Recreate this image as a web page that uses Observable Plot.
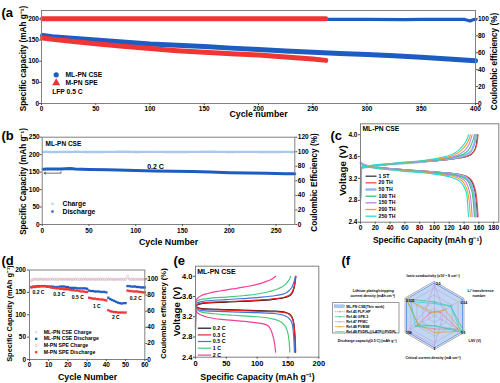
<!DOCTYPE html>
<html><head><meta charset="utf-8">
<script src="https://cdn.jsdelivr.net/npm/d3@7"></script>
<script src="https://cdn.jsdelivr.net/npm/@observablehq/plot@0.6"></script>
<style>
body{margin:0;background:#fff;}
#root{position:relative;width:500px;height:383px;overflow:hidden;}
</style></head><body><div id="root"></div><script>
// ================= DATA =================
// (a) long cycling, LFP 0.5 C
const aBlueCapCycle=[1,10,25,50,75,100,125,150,175,200,225,250,275,300,325,350,375,400];
const aBlueCap=[161,158,155,150,145.5,141,138,135,131,127.5,124,121,118.5,116,113,109.5,105,101];
const aRedCapCycle=[1,10,25,50,75,100,125,150,175,200,225,250,262];
const aRedCap=[155,152,148,141.5,135.5,130,125,121,117.5,114.5,110,105.5,102];
const aBlueCECycle=[1,50,100,150,200,250,300,335,350,390,395,398,400];
const aBlueCE=[99.5,99.6,99.5,99.6,99.5,99.4,99.5,99.2,99.5,99.4,97.5,99.2,99.4];
const aRedCECycle=[1,100,200,262];
const aRedCE=[100.2,100.3,100.2,100.3];
const aXTicks=[0,50,100,150,200,250,300,350,400];
const aYTicks=[0,50,100,150,200];
const aY2Ticks=[0,20,40,60,80,100];

// (b) 0.2 C cycling
const bCycle=[1,5,10,20,30,35,50,70,90,100,120,140,160,180,200,220,240,260,270];
const bDischarge=[158.5,159,159,159,160.5,159,157.5,156.5,155.5,154.5,153.5,152.5,151.5,150,148.5,147.5,146.5,145.5,145];
const bCE=[99.6,100,99.5,99.9,99.7,100,99.6,99.8,100,99.7,99.9,99.6,99.8,100,99.7,99.9,99.6,99.8,99.7];
const bXTicks=[0,50,100,150,200,250];
const bYTicks=[0,50,100,150,200,250];
const bY2Ticks=[0,20,40,60,80,100,120];
const bArrow={from:20,to:2,at:147,tick:152};

// (c) voltage profiles by cycle
const cCycles=["1 ST","20 TH","50 TH","100 TH","150 TH","200 TH","250 TH"];
const cColors=["#3a3a3a","#f24a4a","#8fb6ef","#34c27a","#c47ee6","#e8a51a","#22dcdc"];
const cCharge=[
 [[0,2.75],[1,3.38],[10,3.41],[20,3.43],[40,3.46],[60,3.48],[80,3.5],[100,3.52],[120,3.55],[135,3.58],[145,3.61],[151,3.66],[155,3.74],[157,3.85],[158,4.0]],
 [[0,2.8],[1,3.39],[10,3.41],[20,3.43],[40,3.46],[60,3.48],[80,3.5],[100,3.52],[120,3.55],[135,3.58],[146,3.61],[152,3.67],[156,3.76],[158,3.88],[159,4.0]],
 [[0,2.85],[1,3.39],[10,3.41],[20,3.43],[40,3.46],[60,3.48],[80,3.5],[100,3.53],[120,3.56],[135,3.6],[144,3.64],[150,3.71],[153,3.8],[155,3.9],[156,4.0]],
 [[0,2.9],[1,3.4],[10,3.42],[20,3.44],[40,3.46],[60,3.49],[80,3.51],[100,3.53],[120,3.57],[132,3.61],[142,3.67],[148,3.76],[151,3.86],[153,3.94],[154,4.0]],
 [[0,2.9],[1,3.4],[10,3.42],[20,3.44],[40,3.47],[60,3.49],[80,3.51],[100,3.54],[120,3.58],[130,3.62],[139,3.69],[145,3.78],[148,3.87],[150,3.95],[151,4.0]],
 [[0,2.95],[1,3.41],[10,3.42],[20,3.44],[40,3.47],[60,3.49],[80,3.52],[100,3.55],[118,3.59],[128,3.64],[136,3.71],[142,3.8],[145.5,3.88],[147.5,3.95],[148.5,4.0]],
 [[0,3.0],[1,3.41],[10,3.43],[20,3.45],[40,3.47],[60,3.5],[80,3.52],[100,3.56],[115,3.6],[125,3.65],[133,3.72],[139,3.81],[143,3.89],[145,3.95],[146,4.0]]
];
const cDischarge=[
 [[0,3.5],[3,3.46],[10,3.43],[20,3.41],[40,3.38],[60,3.36],[80,3.34],[100,3.32],[120,3.3],[135,3.27],[145,3.22],[150,3.15],[153,3.05],[155.5,2.9],[157,2.7],[158,2.5]],
 [[0,3.49],[3,3.46],[10,3.43],[20,3.41],[40,3.38],[60,3.36],[80,3.34],[100,3.32],[120,3.3],[135,3.27],[146,3.22],[151,3.15],[154,3.05],[156.5,2.9],[158,2.7],[159,2.5]],
 [[0,3.49],[3,3.46],[10,3.43],[20,3.4],[40,3.37],[60,3.35],[80,3.33],[100,3.31],[120,3.29],[134,3.26],[143,3.21],[148,3.14],[151,3.04],[153.5,2.9],[155,2.7],[156,2.5]],
 [[0,3.48],[3,3.45],[10,3.42],[20,3.4],[40,3.37],[60,3.35],[80,3.33],[100,3.31],[120,3.28],[132,3.25],[141,3.2],[146,3.13],[149,3.03],[151.5,2.9],[153,2.7],[154,2.5]],
 [[0,3.48],[3,3.45],[10,3.42],[20,3.4],[40,3.37],[60,3.34],[80,3.32],[100,3.3],[118,3.27],[130,3.24],[138,3.19],[143,3.12],[146,3.02],[148.5,2.88],[150,2.7],[151,2.5]],
 [[0,3.47],[3,3.44],[10,3.41],[20,3.39],[40,3.36],[60,3.34],[80,3.32],[100,3.29],[116,3.26],[127,3.23],[135,3.18],[140,3.11],[143.5,3.01],[146,2.88],[147.5,2.7],[148.5,2.5]],
 [[0,3.47],[3,3.44],[10,3.41],[20,3.39],[40,3.36],[60,3.33],[80,3.31],[100,3.28],[114,3.25],[125,3.21],[133,3.16],[138,3.09],[141.5,3.0],[144,2.87],[145,2.7],[146,2.5]]
];
const cXTicks=[0,20,40,60,80,100,120,140,160,180];
const vTicks=[2.4,2.8,3.2,3.6,4.0];

// (d) rate performance
const dCycle=[1,2,3,4,5,6,7,8,9,10,11,12,13,14,15,16,17,18,19,20,21,22,23,24,25,26,27,28,29,30,31,32,33,34,35,36,37,38,39,40,41,42,43,44,45,46,47,48,49,50,51,52,53,54,55,56,57,58,59,60];
const dBlueDis=[162,163,163,164,164,164,164,164,163,163, 163,163,162,162,162,163,163,163,162,162, 160,160,160,160,159,159,159,159,159,158, 154,153,153,152,152,152,151,151,151,150, 138,135,133,131,129,127,126,125,126,126, 164,164,163,163,163,162,162,161,161,161];
const dRedDis=[161,162,162,163,163,164,164,164,163,163, 161,160,160,159,159,158,158,157,157,157, 156,155,155,154,154,153,152,152,151,151, 138,137,136,136,135,135,134,134,133,132, 110,108,107,106,106,105,105,105,105,105, 154,153,153,152,152,152,151,151,150,150];
const dBlueCE=[97.5,99.2,99.6,99.1,99.4,99.7,99.2,99.5,99.1,99.6, 99.3,99.7,99.1,99.5,99.2,99.6,99.3,99,99.5,99.2, 99.6,99.1,99.4,99.7,99.2,99.5,99,99.4,99.6,99.1, 99.5,99.2,99.6,99.1,99.4,99.7,99.2,99.5,99.1,99.3, 99.6,99.2,99.5,99.1,99.4,99.7,99.2,99.5,99.1,99.4, 101.5,99.6,99.2,99.5,99.1,99.4,99.6,99.2,99.5,99.3];
const dRedCE=[98.5,99.6,99.9,99.4,99.8,100,99.5,99.9,99.6,99.8, 99.5,99.9,99.6,99.8,99.4,99.9,99.6,99.8,99.5,99.9, 99.7,99.4,99.9,99.6,99.8,99.5,99.9,99.6,99.8,99.5, 99.8,99.6,99.9,99.5,99.8,99.6,100,99.7,99.5,99.8, 99.6,99.9,99.7,99.5,99.8,99.6,99.9,99.7,99.5,99.8, 104,99.8,99.5,99.9,99.6,99.8,99.5,99.9,99.6,99.8];
const dXTicks=[0,10,20,30,40,50,60];
const dYTicks=[0,50,100,150,200];
const dY2Ticks=[0,20,40,60,80,100];
const dRateLabels=["0.2 C","0.3 C","0.5 C","1 C","2 C","0.2 C"];

// (e) voltage profiles by rate
const eRates=["0.2 C","0.3 C","0.5 C","1 C","2 C"];
const eColors=["#111111","#ee2222","#3a78d8","#46c878","#f0409a"];
const eCharge=[
 [[0,2.95],[0.5,3.42],[10,3.46],[50,3.49],[100,3.52],[130,3.55],[145,3.58],[153,3.62],[158,3.7],[161,3.84],[162.5,4.0]],
 [[0,3.0],[0.5,3.43],[10,3.47],[50,3.5],[100,3.53],[130,3.56],[145,3.59],[153,3.63],[158,3.72],[161,3.85],[163,4.0]],
 [[0,3.1],[0.5,3.46],[10,3.5],[50,3.54],[100,3.58],[130,3.62],[145,3.66],[152,3.72],[157,3.8],[160,3.9],[162,4.0]],
 [[0,3.2],[0.5,3.49],[5,3.53],[20,3.56],[50,3.59],[80,3.62],[100,3.65],[120,3.7],[135,3.76],[145,3.83],[150,3.9],[153,3.96],[154,4.0]],
 [[0,3.3],[0.5,3.5],[3,3.56],[10,3.62],[20,3.66],[40,3.71],[60,3.75],[80,3.79],[100,3.84],[115,3.9],[125,3.95],[130,4.0]]
];
const eDischarge=[
 [[0,3.4],[10,3.36],[50,3.34],[100,3.32],[130,3.31],[145,3.29],[153,3.25],[158,3.15],[160.5,2.95],[161.5,2.7],[162,2.5]],
 [[0,3.39],[10,3.35],[50,3.33],[100,3.31],[130,3.3],[145,3.28],[153,3.24],[158,3.14],[160.5,2.93],[162,2.7],[162.5,2.5]],
 [[0,3.37],[10,3.32],[50,3.3],[100,3.28],[130,3.26],[145,3.22],[153,3.15],[157,3.05],[159,2.85],[160,2.65],[160.5,2.5]],
 [[0,3.36],[10,3.29],[30,3.26],[60,3.23],[100,3.2],[120,3.17],[135,3.12],[143,3.05],[148,2.95],[151,2.8],[152.5,2.62],[153,2.5]],
 [[0,3.35],[3,3.28],[10,3.23],[20,3.19],[50,3.14],[80,3.11],[100,3.08],[115,3.04],[122,2.95],[126,2.8],[128.5,2.65],[130,2.5]]
];
const eXTicks=[0,50,100,150,200];

// (f) radar comparison (normalised to this work's maxima)
const fAxisMax=["2.5","0.54","5.1","1","158","0.035"];
const fSeries=["ML-PN CSE(This work)","Ref.45 PLP-HP","Ref.46 GPE-3","Ref.47 PFMC","Ref.48 PVBSE","Ref.49 PVDFL@LATP@PVDFL"];
const fColors=["#5b8fdc","#f07080","#3fbf7f","#c898e8","#e0a020","#2fd0d8"];
const fValues=[
 [0.95,0.95,0.95,0.95,0.95,0.95],
 [0.12,0.2,0.8,0.4,0.62,0.15],
 [0.4,0.55,1.02,0.3,0.55,0.95],
 [0.92,0.3,0.25,0.88,0.9,0.3],
 [0.08,0.35,0.93,0.5,0.55,0.95],
 [0.35,0.55,0.88,0.3,0.65,0.8]
];
const fLevels=[0.2,0.4,0.6,0.8,1.0];

// ================= RENDER =================
const FONT='"Liberation Sans", Arial, Helvetica, sans-serif';
const root=document.getElementById("root");
function mount(svg,left,top,z){svg.style.position="absolute";svg.style.left=left+"px";svg.style.top=top+"px";if(z)svg.style.zIndex=z;root.appendChild(svg);}
function S(size){return {fontFamily:FONT,fontWeight:"bold",fontSize:size+"px",background:"transparent",overflow:"visible",color:"#000",maxWidth:"none"};}
function rows(xs,ys){return xs.map((x,i)=>({x,y:ys[i]}));}
function pairs(a){return a.map(([x,y])=>({x,y}));}
const BLUE="#1d5cc0", RED="#f03535", AX="#555", FR="#808080";

// ---- (a)
const k2=2;
mount(Plot.plot({
  width:500,height:125,marginLeft:41,marginRight:25,marginTop:10,marginBottom:22,style:S(6.5),
  x:{domain:[0,400]},y:{domain:[0,220]},
  marks:[
    Plot.line(rows(aBlueCECycle,aBlueCE.map(v=>v*k2)),{x:"x",y:"y",stroke:BLUE,strokeWidth:3.2}),
    Plot.line(rows(aBlueCapCycle,aBlueCap),{x:"x",y:"y",stroke:BLUE,strokeWidth:5}),
    Plot.line(rows(aRedCapCycle,aRedCap),{x:"x",y:"y",stroke:RED,strokeWidth:5}),
    Plot.line(rows(aRedCECycle,aRedCE.map(v=>v*k2)),{x:"x",y:"y",stroke:RED,strokeWidth:5}),
    Plot.frame({stroke:FR}),
    Plot.axisX({ticks:aXTicks,tickSize:2,tickPadding:0.5,label:null,stroke:AX}),
    Plot.axisY({ticks:aYTicks,tickSize:2,tickPadding:0.5,label:null,stroke:AX}),
    Plot.axisY({anchor:"right",ticks:aY2Ticks.map(v=>v*k2),tickFormat:v=>v/k2,tickSize:2,tickPadding:0.5,label:null,stroke:AX})
  ]}),0,0);

// ---- (b)
const kb=250/120;
mount(Plot.plot({
  width:335,height:130,marginLeft:41.7,marginRight:40.7,marginTop:11.7,marginBottom:31,style:S(6.5),
  x:{domain:[0,270]},y:{domain:[0,250]},
  marks:[
    Plot.line(rows(bCycle,bCE.map(v=>v*kb)),{x:"x",y:"y",stroke:"#a9c8ef",strokeWidth:2.4,strokeDasharray:"1.3,1.1"}),
    Plot.line(rows(bCycle,bDischarge),{x:"x",y:"y",stroke:BLUE,strokeWidth:3}),
    Plot.arrow([bArrow],{x1:"from",x2:"to",y1:"at",y2:"at",stroke:"#333",strokeWidth:0.7,headLength:4}),
    Plot.link([bArrow],{x1:"from",x2:"from",y1:"at",y2:"tick",stroke:"#333",strokeWidth:0.7}),
    Plot.frame({stroke:FR}),
    Plot.axisX({ticks:bXTicks,tickSize:2,tickPadding:1.5,label:null,stroke:AX}),
    Plot.axisY({ticks:bYTicks,tickSize:2,tickPadding:0.5,label:null,stroke:AX}),
    Plot.axisY({anchor:"right",ticks:bY2Ticks.map(v=>v*kb),tickFormat:v=>Math.round(v/kb),tickSize:2,tickPadding:1,label:null,stroke:AX})
  ]}),0,125);

// ---- (c)
const cMarks=[];
cCycles.forEach((c,i)=>{
  const w=i===2?2.2:1.1;
  cMarks.push(Plot.line(pairs(cCharge[i]),{x:"x",y:"y",stroke:cColors[i],strokeWidth:w,curve:"monotone-x"}));
  cMarks.push(Plot.line(pairs(cDischarge[i]),{x:"x",y:"y",stroke:cColors[i],strokeWidth:w,curve:"monotone-x"}));
});
mount(Plot.plot({
  width:170,height:137,marginLeft:30,marginRight:1.7,marginTop:5.3,marginBottom:33.3,style:S(6.5),
  x:{domain:[0,187]},y:{domain:[2.4,4.2]},
  marks:[...cMarks,
    Plot.frame({stroke:FR}),
    Plot.axisX({ticks:cXTicks,tickSize:2,tickPadding:1,label:null,stroke:AX}),
    Plot.axisY({ticks:vTicks,tickFormat:d3.format(".1f"),tickSize:2,tickPadding:1,label:null,stroke:AX})
  ]}),330,118);

// ---- (d)
const kd=1.8;
mount(Plot.plot({
  width:175,height:128,marginLeft:29,marginRight:30.7,marginTop:14.5,marginBottom:24,style:S(6.5),
  x:{domain:[0,60]},y:{domain:[0,200]},
  marks:[
    Plot.dot(rows(dCycle,dBlueCE.map(v=>v*kd)),{x:"x",y:"y",r:1,stroke:"#b4cdf0",strokeWidth:0.6}),
    Plot.dot(rows(dCycle,dRedCE.map(v=>v*kd)),{x:"x",y:"y",r:1,stroke:"#f5b0b0",strokeWidth:0.6}),
    Plot.dot(rows(dCycle,dBlueDis),{x:"x",y:"y",r:1.3,fill:BLUE,symbol:"square"}),
    Plot.dot(rows(dCycle,dRedDis),{x:"x",y:"y",r:1.3,fill:RED,symbol:"square"}),
    Plot.frame({stroke:FR}),
    Plot.axisX({ticks:dXTicks,tickSize:2,tickPadding:1,label:null,stroke:AX}),
    Plot.axisY({ticks:dYTicks,tickSize:2,tickPadding:1.5,label:null,stroke:AX}),
    Plot.axisY({anchor:"right",ticks:dY2Ticks.map(v=>v*kd),tickFormat:v=>Math.round(v/kd),tickSize:2,tickPadding:0.5,label:null,stroke:AX})
  ]}),0,255);

// ---- (e)
const eMarks=[];
eRates.forEach((r,i)=>{
  eMarks.push(Plot.line(pairs(eCharge[i]),{x:"x",y:"y",stroke:eColors[i],strokeWidth:1.2,curve:"monotone-x"}));
  eMarks.push(Plot.line(pairs(eDischarge[i]),{x:"x",y:"y",stroke:eColors[i],strokeWidth:1.2,curve:"monotone-x"}));
});
mount(Plot.plot({
  width:170,height:128,marginLeft:30,marginRight:16.7,marginTop:10.7,marginBottom:26.3,style:S(7.5),
  x:{domain:[0,200]},y:{domain:[2.4,4.2]},
  marks:[...eMarks,
    Plot.frame({stroke:FR}),
    Plot.axisX({ticks:eXTicks,tickSize:2,tickPadding:1,label:null,stroke:AX}),
    Plot.axisY({ticks:vTicks,tickFormat:d3.format(".1f"),tickSize:2,tickPadding:1,label:null,stroke:AX})
  ]}),165,255);

// ---- (f) radar
const fAng=fAxisMax.map((_,i)=>(90-60*i)*Math.PI/180);
const polar=(v,i)=>({x:v*Math.cos(fAng[i]),y:v*Math.sin(fAng[i])});
const gridRows=fLevels.flatMap(l=>fAng.map((_,i)=>({...polar(l,i),l})));
const spokes=fAng.map((_,i)=>({x1:0,y1:0,...polar(1,i)}));
const fMarks=[
  Plot.line(fValues[0].map(polar),{x:"x",y:"y",curve:"linear-closed",fill:"#a9c3ef",fillOpacity:0.7,stroke:"none"}),
  Plot.line(gridRows.filter(d=>d.l<1),{x:"x",y:"y",z:"l",curve:"linear-closed",stroke:"#9aa3b5",strokeWidth:0.4}),
  Plot.line(gridRows.filter(d=>d.l===1),{x:"x",y:"y",curve:"linear-closed",stroke:"#a8a8a8",strokeWidth:1}),
  Plot.link(spokes,{x1:"x1",y1:"y1",x2:"x",y2:"y",stroke:"#9aa3b5",strokeWidth:0.4}),
  Plot.line(fValues[0].map(polar),{x:"x",y:"y",curve:"linear-closed",stroke:fColors[0],strokeWidth:0.9})
];
for(let s=1;s<fSeries.length;s++){
  fMarks.push(Plot.line(fValues[s].map(polar),{x:"x",y:"y",curve:"linear-closed",stroke:fColors[s],strokeWidth:0.7,strokeDasharray:s===1?"1.5,0.8":null}));
  fMarks.push(Plot.dot(fValues[s].map(polar),{x:"x",y:"y",r:0.7,fill:fColors[s]}));
}
fMarks.push(Plot.dot(fValues[0].map(polar),{x:"x",y:"y",r:0.7,fill:fColors[0]}));
mount(Plot.plot({
  width:170,height:128,margin:0,style:S(4),
  x:{domain:[-104/34,66/34],axis:null},y:{domain:[-68/34,60/34],axis:null},
  marks:fMarks}),330,255);

// ---- overlay: titles, panel letters, legends (page pixel coordinates)
const T=[]; // [text,x,y,size,anchor,rotate]
function t(s,x,y,sz,a="start",r=0){T.push({s,x,y,sz,a,r});}
t("(a",1,12,13); t("(b",1,135,13); t("(c",330,135,13); t("(d",1,260,13); t("(e",173,260,13); t("(f",341,260,13);
// axis titles
t("Cycle number",258,114,8.8,"middle");
t("Specific capacity (mAh g\u207B\u00B9)",23,58,8.2,"middle",-90);
t("Coulombic efficiency (%)",494,61,8.2,"middle",-90);
t("Cycle Number",168,242,8.8,"middle");
t("Specific Capacity (mAh g\u207B\u00B9)",23,181,8.2,"middle",-90);
t("Coulombic Efficiency (%)",314,182,8.2,"middle",-90);
t("Specific Capacity (mAh g\u207B\u00B9)",427,240,8.4,"middle");
t("Voltage (V)",342,170,9.8,"middle",-90);
t("Cycle Number",87,377,8.8,"middle");
t("Specific Capacity (mAh g\u207B\u00B9)",9,313,7.4,"middle",-90);
t("Coulombic efficiency (%)",163,313,7.6,"middle",-90);
t("Specific Capacity (mAh g\u207B\u00B9)",257,377,8.8,"middle");
t("Voltage (V)",176,311,9.6,"middle",-90);
// (a) legend
t("ML-PN CSE",65,74.3,6.7); t("M-PN SPE",65,82.7,6.7); t("LFP 0.5 C",51.7,91,6.7);
// (b)
t("ML-PN CSE",45,143,6.5); t("0.2 C",155,166,7,"middle"); t("Charge",62,203.3,6.8); t("Discharge",62,211,6.8);
// (c)
t("ML-PN CSE",362,128.5,6.7);
const cRowY=[175.7,182.3,189,195.7,202.3,209,215.7];
cCycles.forEach((c,i)=>t(c,378,cRowY[i],5.2));
// (d)
const dRowY=[331.7,338.3,345,351.7];
["ML-PN CSE Charge","ML-PN CSE Discharge","M-PN SPE Charge","M-PN SPE Discharge"].forEach((s,i)=>t(s,43.3,dRowY[i],5.2));
const dRatePos=[[38,292.3],[58.7,294.3],[77.3,297.3],[96.3,305.7],[115.3,317.3],[135.3,297.7]];
dRateLabels.forEach((s,i)=>t(s,dRatePos[i][0],dRatePos[i][1],5,"middle"));
// (e)
t("ML-PN CSE",196.7,271,7);
const eRowY=[327.7,334.4,341,347.7,354.6];
eRates.forEach((r,i)=>t(r,212.3,eRowY[i],5.3));
// (f) axis names and maxima
t("Ionic conductivity (x10\u207B\u2074 S cm\u207B\u00B9)",432.5,275.5,3.5,"middle");
t("Li\u207A transference",467,290.3,3.5); t("number",472,295.5,3.5);
t("LSV (V)",468,340.5,3.5);
t("Critical current density (mA cm\u207B\u00B2)",432.5,357.7,3.5,"middle");
t("Discharge capacity(0.5 C) (mAh g\u207B\u00B9)",366.7,340,3.5,"middle");
t("Lithium plating/stripping",372.8,290.2,3.5,"middle");
t("current density (mAh cm\u207B\u00B2)",372.2,295.4,3.5,"middle");
const fMaxPos=[[435.5,283.6,"start"],[460,302.6,"start"],[460.5,332.2,"start"],[434,348.8,"middle"],[405.5,332.2,"start"],[405.5,300,"start"]];
fAxisMax.forEach((s,i)=>t(s,fMaxPos[i][0],fMaxPos[i][1],3.4,fMaxPos[i][2]));
const fRowY=[306.2,311.2,316.2,321.2,326.2,331.1];
fSeries.forEach((s,i)=>t(s,345.8,fRowY[i],3.5));

const legLines=[];
cCycles.forEach((c,i)=>legLines.push({x1:365,x2:376,y:cRowY[i],c:cColors[i],w:i===2?2.4:1.3}));
eRates.forEach((r,i)=>legLines.push({x1:197.3,x2:210.7,y:eRowY[i],c:eColors[i],w:1.2}));
const fLeg=fSeries.slice(1).map((s,j)=>({x1:334.3,x2:344.3,y:fRowY[j+1],c:fColors[j+1],dash:j===0}));

const ovMarks=[
  Plot.rect([{x1:332.3,x2:399,y1:302.7,y2:333}],{x1:"x1",x2:"x2",y1:"y1",y2:"y2",fill:"white",stroke:"#555",strokeWidth:0.6}),
  Plot.rect([{x1:334.3,x2:344.3,y1:304.9,y2:307.5}],{x1:"x1",x2:"x2",y1:"y1",y2:"y2",fill:"#b3c9ef",stroke:fColors[0],strokeWidth:0.4}),
  Plot.link(fLeg.filter(d=>d.dash),{x1:"x1",x2:"x2",y1:"y",y2:"y",stroke:d=>d.c,strokeWidth:0.7,strokeDasharray:"1.2,0.6"}),
  Plot.link(fLeg.filter(d=>!d.dash),{x1:"x1",x2:"x2",y1:"y",y2:"y",stroke:d=>d.c,strokeWidth:0.7}),
  Plot.dot(fLeg,{x:d=>(d.x1+d.x2)/2,y:"y",r:0.7,fill:d=>d.c}),
  Plot.link(legLines,{x1:"x1",x2:"x2",y1:"y",y2:"y",stroke:d=>d.c,strokeWidth:d=>d.w}),
  // (a) legend symbols
  Plot.dot([{x:55.7,y:74.3}],{x:"x",y:"y",r:2.6,fill:BLUE}),
  Plot.dot([{x:55.7,y:82.3}],{x:"x",y:"y",r:3,fill:RED,symbol:"triangle"}),
  // (b) legend symbols
  Plot.dot([{x:52,y:203.3}],{x:"x",y:"y",r:1.3,fill:"#b8d2f2",symbol:"square"}),
  Plot.dot([{x:52,y:211}],{x:"x",y:"y",r:1.3,fill:BLUE,symbol:"square"}),
  // (d) legend symbols
  Plot.dot([{x:35.7,y:331.7}],{x:"x",y:"y",r:1.1,stroke:"#b4cdf0",strokeWidth:0.7}),
  Plot.dot([{x:35.7,y:338.3}],{x:"x",y:"y",r:1.3,fill:BLUE,symbol:"square"}),
  Plot.dot([{x:35.7,y:345}],{x:"x",y:"y",r:1.1,stroke:"#f5b0b0",strokeWidth:0.7}),
  Plot.dot([{x:35.7,y:351.7}],{x:"x",y:"y",r:1.3,fill:RED,symbol:"square"})
];
["start","middle","end"].forEach(a=>{
  const d=T.filter(v=>v.a===a);
  if(d.length) ovMarks.push(Plot.text(d,{x:"x",y:"y",text:"s",fontSize:v=>v.sz,rotate:v=>v.r,textAnchor:a,fill:"black"}));
});
mount(Plot.plot({
  width:500,height:383,margin:0,style:S(6),
  x:{domain:[0,500],range:[0,500],axis:null},
  y:{domain:[0,383],range:[0,383],axis:null},
  color:{type:"identity"},
  marks:ovMarks}),0,0,5);
</script></body></html>
